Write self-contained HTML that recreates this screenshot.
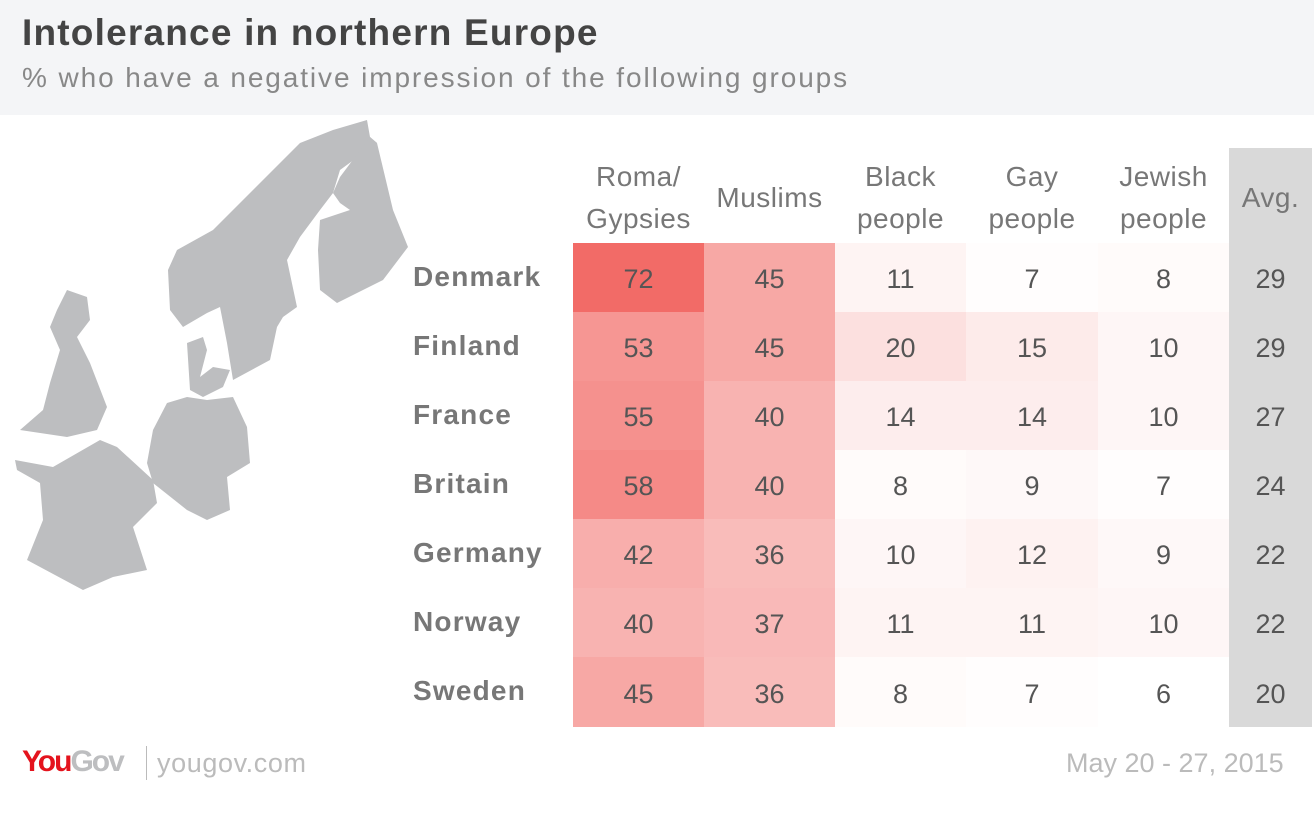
<!DOCTYPE html>
<html><head><meta charset="utf-8"><style>
body{margin:0;width:1314px;height:829px;background:#fff;font-family:"Liberation Sans",sans-serif;position:relative;overflow:hidden}
.hdr{position:absolute;left:0;top:0;width:1314px;height:115px;background:#f4f5f7}
.t{position:absolute;left:22px;top:12px;font-size:37px;font-weight:bold;color:#444;letter-spacing:1.2px}
.s{position:absolute;left:22px;top:62px;font-size:28px;color:#888;letter-spacing:1.9px}
.c{position:absolute;display:flex;align-items:center;justify-content:center;font-size:27px;color:#555;padding-top:4px;box-sizing:border-box}
.h{position:absolute;text-align:center;font-size:28px;color:#777;line-height:42px;letter-spacing:0.5px}
.r{position:absolute;left:413px;font-size:28px;font-weight:bold;color:#777;letter-spacing:1.2px}
</style></head><body>
<div class="hdr"></div>
<div class="t">Intolerance in northern Europe</div>
<div class="s">% who have a negative impression of the following groups</div>
<svg style="position:absolute;left:0;top:0" width="420" height="600"><g fill="#bdbec0">
<polygon points="170,310 168,270 177,250 213,230 233,210 253,190 280,163 300,143 333,130 367,120 370,137 377,143 340,170 333,193 320,210 300,237 287,260 297,307 283,317 277,327 270,360 233,380 227,343 220,307 207,313 183,327"/>
<polygon points="333,193 340,177 370,137 377,143 393,210 408,247 383,280 337,303 320,290 318,250 320,220 350,210 340,203"/>
<polygon points="187,343 203,337 207,350 200,377 213,367 230,370 223,387 203,397 190,390"/>
<polygon points="167,403 187,397 207,400 233,397 247,427 250,463 227,477 230,510 207,520 187,510 153,483 147,463 153,430"/>
<polygon points="15,460 53,467 100,440 117,447 153,480 157,503 133,527 147,570 113,577 83,590 27,560 43,520 40,483 17,470"/>
<polygon points="67,290 87,297 90,320 77,337 90,363 107,407 97,430 67,437 20,430 43,410 50,383 60,350 50,327 57,310"/>
</g></svg>
<div style="position:absolute;left:1229px;top:148px;width:83px;height:579px;background:#d9d9d9"></div>
<div class="h" style="left:573px;top:156px;width:131px">Roma/<br>Gypsies</div>
<div class="h" style="left:704px;top:177px;width:131px">Muslims</div>
<div class="h" style="left:835px;top:156px;width:131px">Black<br>people</div>
<div class="h" style="left:966px;top:156px;width:132px">Gay<br>people</div>
<div class="h" style="left:1098px;top:156px;width:131px">Jewish<br>people</div>
<div class="h" style="left:1229px;top:177px;width:83px">Avg.</div>
<div id="g"></div>
<script>
var rows=[["Denmark",72,45,11,7,8,29],["Finland",53,45,20,15,10,29],["France",55,40,14,14,10,27],["Britain",58,40,8,9,7,24],["Germany",42,36,10,12,9,22],["Norway",40,37,11,11,10,22],["Sweden",45,36,8,7,6,20]];
var xs=[573,704,835,966,1098,1229,1312],ys=[243,312,381,450,519,588,657,727],h="";
rows.forEach(function(r,i){
 h+='<div class="r" style="top:'+(ys[i]+18)+'px">'+r[0]+'</div>';
 for(var j=0;j<6;j++){
  var bg="transparent";
  if(j<5){var t=Math.max(0,(r[j+1]-6)/66);t=Math.min(1,t);
   var R=Math.round(255-t*(255-242)),G=Math.round(255-t*(255-107)),B=Math.round(255-t*(255-103));bg="rgb("+R+","+G+","+B+")";}
  h+='<div class="c" style="left:'+xs[j]+'px;top:'+ys[i]+'px;width:'+(xs[j+1]-xs[j])+'px;height:'+(ys[i+1]-ys[i])+'px;background:'+bg+'">'+r[j+1]+'</div>';
 }
});
document.getElementById("g").innerHTML=h;
</script>
<div style="position:absolute;left:22px;top:745px;font-size:30px;font-weight:bold;letter-spacing:-2px"><span style="color:#e4131d">You</span><span style="color:#bdbec0">Gov</span></div>
<div style="position:absolute;left:146px;top:746px;width:1px;height:34px;background:#bbb"></div>
<div style="position:absolute;left:157px;top:748px;font-size:27px;color:#bbb;letter-spacing:0.6px">yougov.com</div>
<div style="position:absolute;left:1066px;top:748px;font-size:27px;color:#bbb">May 20 - 27, 2015</div>
</body></html>
